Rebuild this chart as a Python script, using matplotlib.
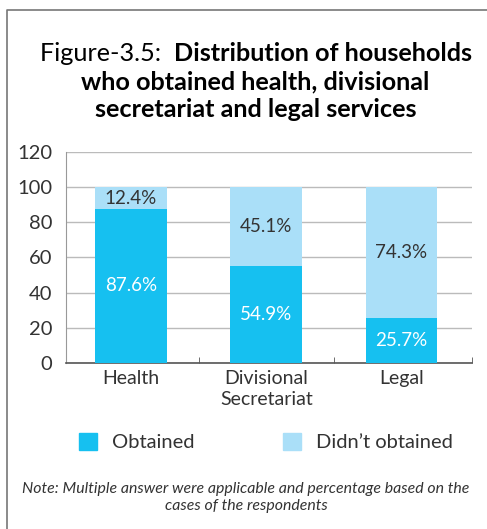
import matplotlib.pyplot as plt
from matplotlib.lines import Line2D
from matplotlib.patches import Patch

plt.rcParams['font.family'] = ['Lato', 'DejaVu Sans']

categories = ['Health', 'Divisional\nSecretariat', 'Legal']
obtained = [87.6, 54.9, 25.7]
not_obtained = [12.4, 45.1, 74.3]
series_names = ['Obtained', 'Didn\u2019t obtained']
yticks = [0, 20, 40, 60, 80, 100, 120]

dark = '#16C0F0'
light = '#AADFF8'
txt = '#333333'

fig = plt.figure(figsize=(4.87, 5.29), dpi=100)
ax = fig.add_axes([0.1355, 0.3138, 0.8335, 0.399])

x = range(len(categories))
w = 0.53
b1 = ax.bar(x, obtained, w, color=dark, zorder=3)
b2 = ax.bar(x, not_obtained, w, bottom=obtained, color=light, zorder=3)

for i in x:
    ax.text(i, obtained[i] / 2, f'{obtained[i]}%', ha='center', va='center',
            color='white', fontsize=13.5, zorder=4)
    ax.text(i, obtained[i] + not_obtained[i] / 2, f'{not_obtained[i]}%',
            ha='center', va='center', color=txt, fontsize=13.5, zorder=4)

ax.set_xlim(-0.48, 2.52)
ax.set_ylim(0, 120)
ax.set_yticks(yticks)
ax.set_xticks(list(x))
ax.set_xticklabels(categories, linespacing=1.3)
ax.set_xticks([-0.48, 0.5, 1.5, 2.52], minor=True)
ax.tick_params(axis='x', which='major', length=0, pad=5, labelsize=14, labelcolor=txt)
ax.tick_params(axis='x', which='minor', direction='in', length=4, color='#555555')
ax.tick_params(axis='y', length=0, pad=10, labelsize=14.5, labelcolor=txt)
ax.yaxis.grid(True, color='#BBBBBB', lw=1, zorder=0)
for s in ['top', 'right']:
    ax.spines[s].set_visible(False)
ax.spines['left'].set_color('#999999')
ax.spines['bottom'].set_color('#555555')
ax.spines['bottom'].set_linewidth(1.2)

# title: first part regular, rest bold, each line centred
r = fig.canvas.get_renderer()
title_lines = [('Figure-3.5:  ', 'Distribution of households'),
               ('', 'who obtained health, divisional'),
               ('', 'secretariat and legal services')]
ys = [0.899, 0.846, 0.793]
cx = 0.525
for (normal, bold), y in zip(title_lines, ys):
    t1 = fig.text(0, y, normal, fontsize=18.2, color='black', va='center')
    t2 = fig.text(0, y, bold, fontsize=18.2, fontweight='bold', color='black', va='center')
    w1 = t1.get_window_extent(r).width if normal else 0
    w2 = t2.get_window_extent(r).width
    start = cx * fig.bbox.width - (w1 + w2) / 2
    t1.set_x(start / fig.bbox.width)
    t2.set_x((start + w1) / fig.bbox.width)

handles = [Patch(color=dark), Patch(color=light)]
fig.legend(handles, series_names, loc='center', bbox_to_anchor=(0.546, 0.164),
           ncol=2, frameon=False, fontsize=14.5, handlelength=0.9, handleheight=0.9,
           columnspacing=4.4, handletextpad=0.75, labelcolor=txt)

fig.text(0.505, 0.06, 'Note: Multiple answer were applicable and percentage based on the\ncases of the respondents',
         ha='center', va='center', fontsize=11.4, style='italic', color=txt, linespacing=1.25)

# outer frame (left and top edges)
fig.add_artist(Line2D([0.0144, 0.0144, 1.0], [0.0, 0.981, 0.981], color='#777777', lw=1.2))

fig.savefig('out.png', dpi=100)
